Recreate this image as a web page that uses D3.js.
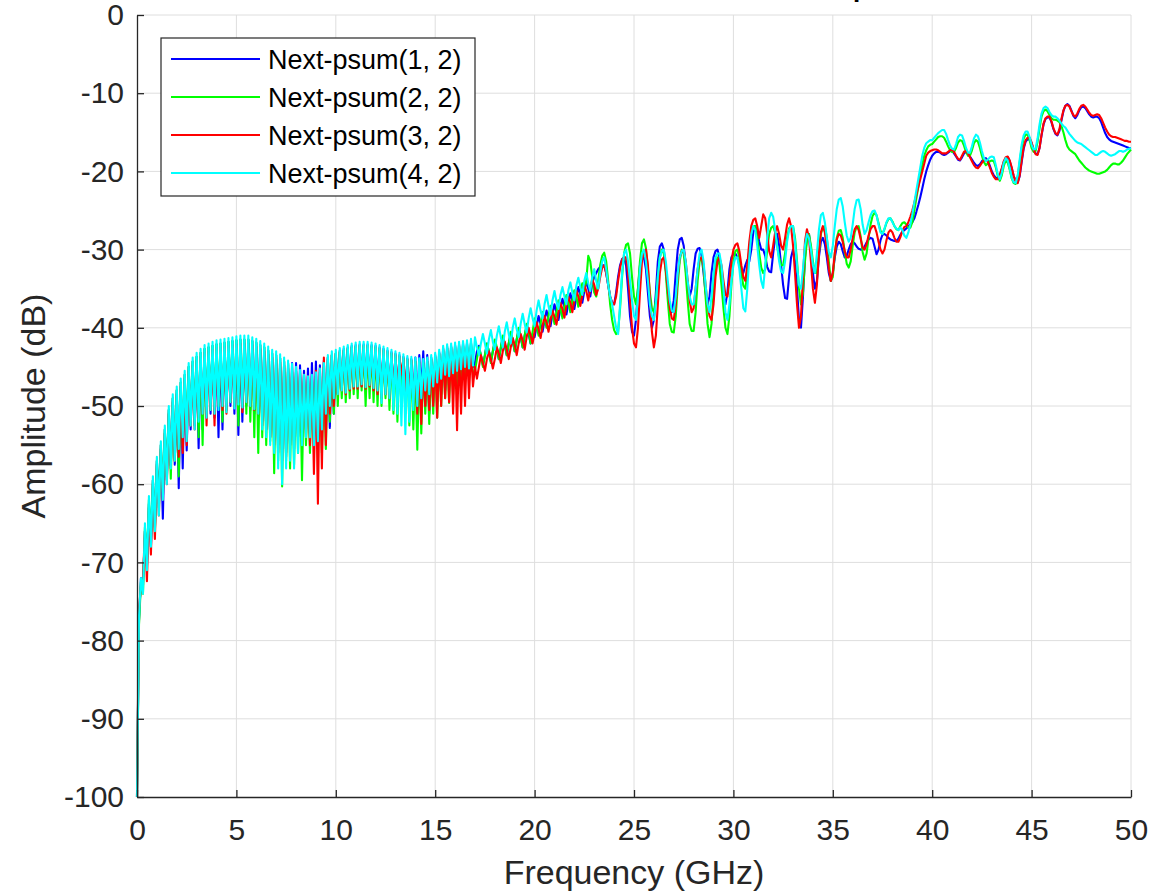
<!DOCTYPE html>
<html>
<head>
<meta charset="utf-8">
<script src="https://cdn.jsdelivr.net/npm/d3@7"></script>
<style>
  html, body { margin: 0; padding: 0; background: #fff; }
  svg { display: block; }
  text { font-family: "Liberation Sans", Arial, Helvetica, sans-serif; fill: #262626; }
</style>
</head>
<body>
<svg id="chart" width="1171" height="892"></svg>
<script>
// Power-sum NEXT amplitude of pair 2 against each disturbing pair, 0–50 GHz.
const freqStepGHz = 0.1;
const freq = d3.range(501).map(i => +(i * freqStepGHz).toFixed(1));

const xTicks = [0, 5, 10, 15, 20, 25, 30, 35, 40, 45, 50];
const yTicks = [0, -10, -20, -30, -40, -50, -60, -70, -80, -90, -100];

const seriesNames = ["Next-psum(1, 2)", "Next-psum(2, 2)", "Next-psum(3, 2)", "Next-psum(4, 2)"];
const seriesColors = ["#0000ff", "#00ff00", "#ff0000", "#00ffff"];

// Amplitude in dB, one value per 0.1 GHz (rows of 1 GHz).
const psum12 = [
-100,-77.5,-72,-73,-66,-70.5,-62.5,-68,-59.5,-65.5,
-57,-62.5,-55,-64.4,-53,-59.5,-50.5,-58,-49,-57.5,
-48,-60.5,-47,-58,-46,-55.7,-45,-53,-44.3,-52.5,
-43.7,-55.4,-43.2,-53,-42.7,-51.5,-42.5,-51,-42.3,-51.5,
-42.1,-54,-42,-53,-41.9,-50.5,-41.8,-50,-41.7,-51,
-41.6,-53.7,-41.5,-52,-41.5,-50,-41.5,-50.5,-41.7,-51,
-41.9,-51.5,-42.2,-52,-42.5,-53,-42.9,-54,-43.3,-54.5,
-43.5,-55,-43.9,-55.5,-44.3,-56,-44.5,-55,-44.5,-54.5,
-44.5,-54,-44.8,-53.5,-45.5,-53,-45.2,-53.5,-44.5,-54,
-44.3,-55,-44.8,-54,-44.2,-53,-43.8,-52.8,-43.5,-51,
-43.3,-48.5,-42.9,-48,-42.7,-48,-42.5,-47.8,-42.3,-47.5,
-42.2,-47.8,-42.1,-47.5,-42.1,-47.6,-42.1,-47.5,-42.2,-48,
-42.3,-48,-42.5,-48.5,-42.7,-48.5,-42.9,-49,-43.1,-48.8,
-43.3,-49,-43.5,-48,-43.7,-49,-43.9,-49.5,-44,-49.5,
-43.8,-50,-43.5,-48,-43,-50,-43.5,-51,-43.8,-49.5,
-43.5,-49,-43.1,-48.5,-42.6,-48,-42.4,-47.6,-42.3,-47,
-42.2,-46.5,-42.1,-46.5,-42,-46,-42,-45.5,-42,-45,
-44.5,-43,-42.3,-43.6,-44.8,-43.5,-42,-43,-44.3,-43,
-41.8,-42.8,-44,-42.6,-41.2,-42.3,-43.5,-42,-40.7,-41.8,
-43,-41.5,-40.2,-41.2,-42.5,-41,-39.8,-40.8,-42,-40.8,
-41.2,-39.8,-38.5,-39.5,-40.5,-39,-37.8,-38.8,-39.8,-38.2,
-37,-38,-39,-37.5,-36.3,-37.3,-38.3,-36.8,-35.6,-36.6,
-37.6,-36,-34.8,-35.8,-36.8,-35.3,-34,-35,-36,-34.3,
-33.5,-33,-32.5,-32.2,-32,-32,-33,-34.5,-36,-36.8,
-37,-35.5,-33.5,-32,-31.2,-31,-32,-35,-38.5,-40.5,
-41,-39,-35,-32,-31.2,-31,-32.5,-35.5,-38.5,-40,
-39,-35.5,-31.5,-29.6,-29.2,-30,-32.5,-35.5,-37.5,-38,
-36.5,-33,-30,-28.7,-28.5,-29.5,-32,-34.5,-36,-35,
-32.5,-30.5,-29.9,-29.8,-30.8,-33,-35.5,-37,-36,-33,
-31,-30.2,-30,-31,-33.5,-36,-37,-35.5,-32.5,-31,
-30.6,-30.5,-31,-32,-33,-33,-32,-31.3,-31.5,-30,
-27.8,-27,-27.8,-29,-30,-30,-30.8,-32.2,-32.8,-32.9,
-30.5,-28.5,-28,-29.5,-32,-34.5,-36.2,-36.3,-33.5,-31,
-30,-31.5,-35,-39,-40,-36,-31,-28.3,-28,-30,
-33,-35,-34,-31,-29,-28.5,-29.3,-31,-33,-34,
-33,-31,-29.6,-29,-29.3,-30.2,-31,-30.8,-30,-29.3,
-29,-29.2,-29.6,-29.9,-30,-30,-29.6,-29.1,-28.7,-28.5,
-28.6,-29.6,-30.6,-30,-28.8,-28.1,-28,-28.2,-28.5,-28.7,
-28.8,-28.9,-28.9,-28.6,-28.1,-27.7,-27.5,-27.3,-27,-26.8,
-26.5,-26,-25.2,-24.3,-23.3,-22.2,-21,-20,-19.2,-18.5,
-18,-17.7,-17.5,-17.5,-17.6,-17.8,-17.9,-17.8,-17.6,-17.4,
-17.4,-17.7,-18.1,-18.5,-18.6,-18.2,-17.7,-17.5,-17.7,-18.1,
-18.5,-18.9,-19.2,-19.3,-19.1,-18.7,-18.4,-18.3,-18.6,-19.3,
-20,-20.5,-20.8,-20.9,-20.5,-19.7,-18.8,-18.3,-18.2,-18.7,
-19.6,-20.6,-21.2,-21.4,-20.6,-18.8,-17.1,-16.2,-15.9,-15.9,
-16.4,-17.2,-17.7,-17.8,-17,-15.4,-14,-13.3,-13.1,-13.1,
-13.7,-14.6,-15.2,-15.4,-14.8,-13.5,-12.3,-11.6,-11.4,-11.6,
-12.2,-12.9,-13.2,-12.8,-12.2,-11.8,-11.7,-11.9,-12.3,-12.7,
-13,-13.1,-13,-13,-13.2,-13.7,-14.4,-15.1,-15.6,-15.9,
-16.1,-16.2,-16.3,-16.4,-16.5,-16.6,-16.7,-16.8,-16.9,-17,
-17
];

const psum22 = [
-100,-78,-72.5,-74,-65.5,-70,-62,-67,-59.5,-66,
-57,-63,-55,-61,-53,-59,-50.5,-59.3,-49,-57,
-48,-59,-47,-55,-46,-53.5,-45,-52.5,-44.3,-52,
-43.7,-54,-43.2,-55,-42.7,-51,-42.5,-50.5,-42.3,-51,
-42.1,-50,-42,-52,-41.9,-50.5,-41.8,-49.5,-41.7,-50,
-41.6,-52.5,-41.5,-50,-41.5,-51,-41.5,-52,-41.7,-54,
-41.9,-56,-42.2,-54,-42.5,-55,-42.9,-54.5,-43.3,-58.6,
-43.5,-57,-43.9,-60.3,-44.3,-57,-44.7,-58,-45.1,-57.5,
-45.5,-56,-45.9,-59.5,-46.5,-55,-46.7,-56,-46.5,-54,
-46.2,-55,-45.7,-56,-45,-55.5,-44,-52,-43.5,-51,
-43.3,-50,-43.1,-49,-42.9,-49.5,-42.7,-49,-42.5,-48.5,
-42.4,-49,-42.3,-48,-42.3,-50,-42.3,-49,-42.4,-49.5,
-42.5,-50,-42.7,-50,-42.9,-49,-43.1,-50.5,-43.3,-51,
-43.5,-52,-43.7,-50,-43.9,-51,-44.1,-52.5,-44.2,-53,
-44.3,-55.6,-44.4,-53.5,-44.5,-51,-44.3,-52.3,-44,-51,
-43.7,-51.5,-43.3,-50,-42.8,-49,-42.6,-49.6,-42.5,-48.5,
-42.4,-48,-42.3,-47.5,-42.2,-47,-42.1,-46.5,-41.9,-46,
-45.5,-44,-42.5,-43.5,-45,-43.5,-42,-43,-44.5,-43,
-41.5,-42.5,-44,-42.5,-41,-42,-43.5,-42,-40.5,-41.5,
-43,-41.5,-40,-41,-42.5,-41,-39.5,-40.5,-42,-40.5,
-38.8,-39.8,-41,-39.5,-38,-39,-40,-38.5,-37.2,-38.2,
-39.5,-38,-36.5,-37.5,-38.8,-37.3,-35.8,-36.8,-38,-36.5,
-35.2,-36,-37.3,-35.8,-34.3,-35.3,-34,-30.8,-31.5,-33.5,
-35.5,-36,-34,-32,-30.8,-30.4,-31.5,-34,-37,-39,
-40.3,-40.8,-40.5,-37.5,-33.5,-30.5,-29.4,-29.2,-30.5,-33.5,
-36,-37,-35,-31.5,-29.2,-28.7,-29.8,-32.5,-35.5,-37.5,
-38,-36.5,-33.5,-31,-30,-30.5,-33,-36.5,-39.5,-40.5,
-40.6,-38.5,-34.5,-31.5,-30,-30.5,-33,-36.5,-39.5,-40.4,
-40.4,-38,-34,-31.5,-31,-32.5,-36,-39.5,-41.2,-39.5,
-35.5,-32,-31,-32,-34.5,-37.5,-40,-40.8,-38.5,-34.5,
-31.5,-30.2,-30,-31,-33,-34.6,-35,-33,-30,-27.8,
-27,-27,-28.5,-30.5,-32.3,-33,-32.5,-30,-28,-27.2,
-27,-27.8,-29.5,-31,-32,-32,-30.5,-28.5,-27.3,-27,
-27,-28.5,-31.5,-35,-37,-35.5,-31.5,-28.8,-28,-29.5,
-31.5,-33,-33,-30.5,-28,-27.2,-27,-28.5,-31.5,-34,
-33.5,-30.5,-28.5,-27.6,-27.5,-28.5,-30.3,-31.8,-32.3,-31.5,
-29.5,-27.8,-27.1,-27,-28.3,-30.3,-31.3,-30.5,-28.5,-26.8,
-25.7,-25.3,-25.6,-26.6,-27.6,-28,-27.4,-26.6,-26.1,-26,
-26.4,-27,-27.4,-27.5,-27,-26.6,-26.5,-26.8,-27.2,-27.2,
-26.5,-25,-23.5,-22,-20.5,-19.2,-18,-17.3,-16.8,-16.6,
-16.5,-16.2,-15.9,-15.6,-15.5,-15.5,-15.7,-16.2,-16.8,-17.3,
-17.5,-17.5,-17,-16.3,-16,-16.1,-16.7,-17.5,-18,-18,
-17.3,-16.4,-16,-16.2,-17,-18,-18.8,-19.2,-19,-18.7,
-18.6,-18.7,-19.5,-20.6,-21.2,-20.5,-19.3,-18.6,-18.9,-19.8,
-20.9,-21.5,-21.6,-20.7,-18.8,-17,-15.8,-15.3,-15.3,-16,
-17,-17.5,-17.4,-16.2,-14.5,-13,-12.3,-12.1,-12.3,-12.8,
-13.2,-13.4,-13.4,-13.5,-13.7,-14.2,-15,-16,-16.8,-17.2,
-17.4,-17.6,-17.8,-18.2,-18.6,-18.9,-19.2,-19.5,-19.7,-19.9,
-20,-20.1,-20.2,-20.3,-20.3,-20.2,-20.1,-20,-19.8,-19.5,
-19.2,-19,-19,-19.1,-19.1,-18.9,-18.6,-18.2,-17.8,-17.5,
-17.2
];

const psum32 = [
-100,-76,-73,-72,-66,-72.4,-63,-69,-60,-67,
-57.5,-64,-55.5,-62,-53.5,-60,-51,-57.6,-49.5,-57,
-48.5,-56.5,-47.5,-56,-46.5,-55,-45.5,-52.5,-44.8,-53,
-44.2,-51.5,-43.7,-51,-43.2,-52.5,-43,-50.5,-42.8,-52.5,
-42.6,-50,-42.5,-50.5,-42.4,-51,-42.3,-49.5,-42.2,-50,
-42.1,-49.5,-42,-50.8,-42,-49.5,-42,-50,-42.2,-50.5,
-42.4,-51,-42.7,-52.5,-43,-53,-43.4,-54,-43.8,-55,
-44,-56,-44.4,-57,-44.8,-56.5,-45.2,-55,-45.6,-55.5,
-45.6,-54,-45.8,-53.5,-46,-54,-46.2,-55,-46.2,-58.7,
-45.5,-62.5,-45.2,-58,-43.8,-55,-43.8,-51,-43.5,-50,
-43.3,-48.5,-43.1,-48,-42.9,-48.5,-42.7,-48,-42.5,-47.8,
-42.4,-47.8,-42.3,-47.5,-42.3,-47.8,-42.3,-47.5,-42.4,-48,
-42.5,-48.5,-42.7,-49,-42.9,-48.5,-43.1,-49,-43.3,-48.5,
-43.5,-48,-43.7,-46,-43.9,-48.5,-44.1,-49,-44.2,-50,
-44.3,-51,-44.4,-52.3,-44.5,-50,-44.3,-50.5,-44,-50,
-43.7,-51.5,-43.3,-50,-42.8,-49,-42.6,-49.5,-42.5,-51,
-42.4,-53.1,-42.3,-51,-42.3,-50,-42.4,-49,-42.6,-47.5,
-45,-46.5,-45,-43.5,-44.5,-45.5,-44,-43,-44,-45.2,
-44,-42.5,-43.3,-44.5,-43,-41.8,-42.8,-44,-42.5,-41.3,
-42.2,-43.5,-42,-40.8,-41.6,-42.8,-41.2,-40,-41,-42,
-40.5,-39.3,-40.2,-41.3,-39.8,-38.5,-39.3,-40.5,-39,-37.8,
-38.6,-39.6,-38,-36.8,-37.6,-38.7,-37.2,-36,-36.8,-38,
-36.5,-35.2,-36,-37.2,-35.8,-34.5,-35.3,-36.5,-35,-33.8,
-34.5,-35.8,-35,-33.5,-32.3,-32,-33,-34.5,-36,-36.8,
-37,-36,-34,-32.3,-31.3,-31,-31,-33,-36.5,-40,
-42,-42.5,-40,-35.5,-31.5,-30.2,-30,-32,-36,-40.5,
-42.5,-41,-37,-33,-31.3,-31,-32.5,-35,-37.5,-38.8,
-39,-37,-33.5,-31,-30.2,-30,-31.5,-34,-36.5,-38,
-37.5,-35,-32.5,-31.2,-31,-32,-34.5,-37,-38.5,-39,
-37,-33.5,-31.5,-31,-32,-34,-35.8,-36,-34,-31.5,
-30,-29.4,-29.2,-30.2,-32,-33.5,-34,-32,-29,-27,
-26.2,-26,-27,-28.5,-27,-25.5,-26,-28,-30.2,-31,
-29.5,-27.8,-27,-28,-29.5,-30,-28.5,-26.8,-26,-27,
-29.5,-33,-37,-40,-38.5,-33.5,-29,-27.4,-28.5,-31.5,
-35,-36.8,-34.5,-30.5,-27.8,-27,-27.8,-30,-32.5,-34,
-33,-30.5,-28.7,-28,-28.2,-29,-30.2,-31,-31,-30,
-28.5,-27.4,-27,-27.5,-28.6,-29.7,-30,-29.3,-28.2,-27.4,
-27,-27,-27.8,-29,-30,-30.5,-30,-28.8,-27.8,-27.5,
-27.8,-28.5,-29,-29,-28.4,-27.6,-27.1,-27,-26.5,-25.8,
-25,-24,-23,-22,-21,-20,-19,-18,-17.6,-17.4,
-17.3,-17.2,-17.2,-17.3,-17.5,-17.7,-17.7,-17.7,-17.5,-17.3,
-17.2,-17.5,-18,-18.4,-18.5,-18,-17.5,-17.4,-17.7,-18.2,
-18.7,-19.2,-19.5,-19.6,-19.3,-18.9,-18.6,-18.5,-18.8,-19.5,
-20.2,-20.7,-21,-21,-20.5,-19.6,-18.7,-18.2,-18.1,-18.6,
-19.5,-20.6,-21.3,-21.5,-20.5,-18.6,-16.9,-16,-15.7,-15.7,
-16.3,-17.2,-17.8,-17.9,-17,-15.3,-13.9,-13.2,-13,-13,
-13.6,-14.5,-15.1,-15.3,-14.6,-13.3,-12.2,-11.6,-11.5,-11.7,
-12.3,-12.8,-13,-12.6,-12,-11.6,-11.5,-11.7,-12.1,-12.5,
-12.8,-12.9,-12.8,-12.7,-12.8,-13.2,-13.8,-14.4,-14.9,-15.3,
-15.5,-15.6,-15.6,-15.7,-15.8,-15.9,-16,-16.1,-16.1,-16.2,
-16.2
];

const psum42 = [
-100,-77,-72,-74,-65,-71,-61.5,-68,-59,-66,
-56.5,-64,-54.5,-62,-52.5,-60,-50,-58,-48.5,-57,
-47.5,-55.5,-46.5,-54,-45.5,-54.5,-44.5,-52.5,-43.8,-53,
-43.2,-52,-42.7,-51,-42.2,-51.5,-42,-50.5,-41.8,-51,
-41.6,-50.5,-41.5,-50,-41.4,-50.8,-41.3,-49.5,-41.2,-50.3,
-41.1,-49.8,-41,-50.2,-41,-49.5,-41,-50,-41.2,-50.4,
-41.4,-51,-41.7,-53,-42,-54,-42.4,-55,-42.8,-56,
-43,-58,-43.4,-60,-43.8,-58,-44.2,-57,-44.6,-58,
-45,-56,-45.4,-55,-46,-54,-46.2,-54,-46,-55,
-45.7,-54.5,-45.2,-53,-44.5,-51,-43.5,-50,-43,-49,
-42.8,-48.5,-42.6,-48,-42.4,-48.3,-42.2,-47.8,-42,-47.5,
-41.9,-47.5,-41.8,-47.2,-41.8,-47.6,-41.8,-47.3,-41.9,-47.7,
-42,-48,-42.2,-49.6,-42.4,-48.5,-42.6,-49,-42.8,-50.5,
-43,-51,-43.2,-52.5,-43.4,-53.6,-43.6,-52,-43.7,-50.5,
-43.8,-50,-43.9,-49,-44,-48,-43.8,-48.5,-43.5,-47.5,
-43.2,-47,-42.8,-46.5,-42.3,-46,-42.1,-46.2,-42,-45.8,
-41.9,-45.5,-41.8,-45.3,-41.7,-45,-41.6,-45.2,-41.4,-44.8,
-41.2,-42.5,-43.5,-42,-40.8,-42,-43.3,-41.5,-40.3,-41.8,
-42.8,-41,-39.8,-41.2,-42.5,-40.5,-39.3,-40.8,-42,-40,
-38.8,-40.2,-41.2,-39.5,-38.2,-39.5,-40.6,-38.8,-37.5,-38.8,
-39.8,-37.8,-36.5,-37.8,-38.8,-37,-35.8,-37.2,-38.3,-36.5,
-35.3,-36.6,-37.6,-35.8,-34.8,-36,-37,-35.2,-34.2,-35.5,
-36.5,-34.6,-33.6,-34.8,-35.8,-34,-33,-34.3,-35.3,-33.5,
-32.5,-34,-35,-33,-31.5,-31,-32.5,-34.5,-36,-37,
-38.5,-40,-40.8,-37,-33,-30.5,-30,-31.5,-34,-36.5,
-38.5,-39,-36,-32.5,-30.5,-30,-31.5,-34,-37,-38.5,
-39,-37,-33.5,-31,-30.2,-30,-31.5,-34,-36.5,-37.8,
-38,-36,-33,-31,-30.2,-30,-31.5,-34,-36,-37,
-37,-35,-32.5,-30.5,-30,-31.5,-34.5,-37,-38,-36,
-33,-31,-30.5,-30.5,-32,-35,-38,-39,-37,-34,
-32,-31,-31,-32.5,-35,-37.5,-37.9,-35,-31,-28,
-27,-27.5,-29.5,-32,-34,-34.9,-32,-28.5,-26,-25.3,
-25.8,-27.5,-29.5,-31.5,-32.8,-33,-31.5,-29,-27.5,-27,
-27,-29,-32,-34.5,-35,-32.5,-29.5,-28,-28.5,-30,
-32,-33,-30.5,-27.5,-25.6,-25.3,-26.5,-28.5,-30.3,-31,
-29.5,-27,-24.8,-23.6,-23.4,-24.5,-26.5,-28.2,-29,-28.5,
-26.8,-24.8,-23.7,-23.6,-24.8,-26.8,-28,-27.5,-26.5,-25.6,
-25.1,-25,-25.6,-26.8,-27.8,-28,-27.3,-26.5,-26,-26,
-26.5,-27,-27.3,-27.5,-27.2,-27.5,-28.2,-28.5,-27.8,-26.8,
-25.5,-24,-22.5,-21,-19.5,-18,-17,-16.4,-16.2,-16,
-16,-15.7,-15.4,-15.1,-14.9,-14.7,-14.7,-15.2,-16,-16.7,
-17.1,-17.2,-16.5,-15.6,-15.3,-15.4,-16.1,-17,-17.6,-17.6,
-16.8,-15.8,-15.3,-15.5,-16.3,-17.4,-18.3,-18.7,-18.5,-18.2,
-18.1,-18.2,-19.2,-20.4,-21,-20.2,-18.9,-18.3,-18.6,-19.6,
-20.8,-21.4,-21.5,-20.5,-18.5,-16.6,-15.4,-14.9,-14.9,-15.6,
-16.6,-17.2,-17.1,-15.8,-14,-12.6,-11.9,-11.7,-11.9,-12.4,
-12.8,-13,-13,-13.2,-13.5,-13.9,-14.2,-14.4,-14.8,-15.2,
-15.5,-15.8,-16.1,-16.3,-16.4,-16.5,-16.7,-16.9,-17.1,-17.3,
-17.5,-17.7,-17.9,-17.9,-17.7,-17.5,-17.4,-17.5,-17.7,-17.9,
-18,-17.9,-17.8,-17.6,-17.4,-17.4,-17.5,-17.4,-17.2,-17.1,
-17
];

const seriesValues = [psum12, psum22, psum32, psum42];

const svg = d3.select("#chart");
const plot = { left: 137, right: 1131, top: 15, bottom: 797 };

const x = d3.scaleLinear().domain([0, 50]).range([plot.left, plot.right]);
const y = d3.scaleLinear().domain([-100, 0]).range([plot.bottom, plot.top]);

// Title (sits above the visible frame)
svg.append("text")
  .attr("x", 580).attr("y", -3)
  .attr("text-anchor", "start")
  .style("font-size", "26px").style("font-weight", "bold").style("fill", "#000")
  .text("NEXT Power Sum Response");

// Grid
const grid = svg.append("g").attr("stroke", "#dedede").attr("stroke-width", 1);
grid.selectAll("line.gx").data(xTicks.filter(t => t !== 0)).join("line")
  .attr("x1", d => x(d)).attr("x2", d => x(d))
  .attr("y1", plot.top).attr("y2", plot.bottom);
grid.selectAll("line.gy").data(yTicks.filter(t => t !== -100)).join("line")
  .attr("x1", plot.left).attr("x2", plot.right)
  .attr("y1", d => y(d)).attr("y2", d => y(d));

// Series
const line = d3.line().x((d, i) => x(freq[i])).y(d => y(d));
const lines = svg.append("g").attr("fill", "none")
  .attr("stroke-width", 2.1).attr("stroke-linejoin", "round");
seriesValues.forEach((vals, k) => {
  lines.append("path").attr("d", line(vals)).attr("stroke", seriesColors[k]);
});

// Axes (plain hyphen for negative tick labels)
const fmt = d => String(d);
const xAxis = svg.append("g").attr("transform", `translate(0,${plot.bottom})`)
  .call(d3.axisBottom(x).tickValues(xTicks).tickFormat(fmt).tickSizeInner(-7).tickSizeOuter(0).tickPadding(22));
const yAxis = svg.append("g").attr("transform", `translate(${plot.left},0)`)
  .call(d3.axisLeft(y).tickValues(yTicks).tickFormat(fmt).tickSizeInner(-7).tickSizeOuter(0).tickPadding(13));
[xAxis, yAxis].forEach(g => {
  g.select(".domain").attr("stroke", "#262626").attr("stroke-width", 1.3);
  g.selectAll(".tick line").attr("stroke", "#262626").attr("stroke-width", 1.3);
  g.selectAll(".tick text").style("font-size", "30px").attr("fill", "#262626")
    .style("font-family", "'Liberation Sans', Arial, sans-serif");
});

// Axis labels
svg.append("text")
  .attr("x", (plot.left + plot.right) / 2).attr("y", 884)
  .attr("text-anchor", "middle").style("font-size", "34px")
  .text("Frequency (GHz)");
svg.append("text")
  .attr("transform", `translate(45,${(plot.top + plot.bottom) / 2}) rotate(-90)`)
  .attr("text-anchor", "middle").style("font-size", "34px")
  .text("Amplitude (dB)");

// Legend
const legend = svg.append("g").attr("transform", "translate(161,38)");
legend.append("rect").attr("width", 314).attr("height", 158)
  .attr("fill", "#fff").attr("stroke", "#262626").attr("stroke-width", 1.2);
seriesNames.forEach((name, k) => {
  const ly = 21 + k * 38;
  legend.append("line").attr("x1", 10).attr("x2", 99).attr("y1", ly).attr("y2", ly)
    .attr("stroke", seriesColors[k]).attr("stroke-width", 2);
  legend.append("text").attr("x", 107).attr("y", ly + 9.5)
    .style("font-size", "27px").style("fill", "#000").text(name);
});
</script>
</body>
</html>
